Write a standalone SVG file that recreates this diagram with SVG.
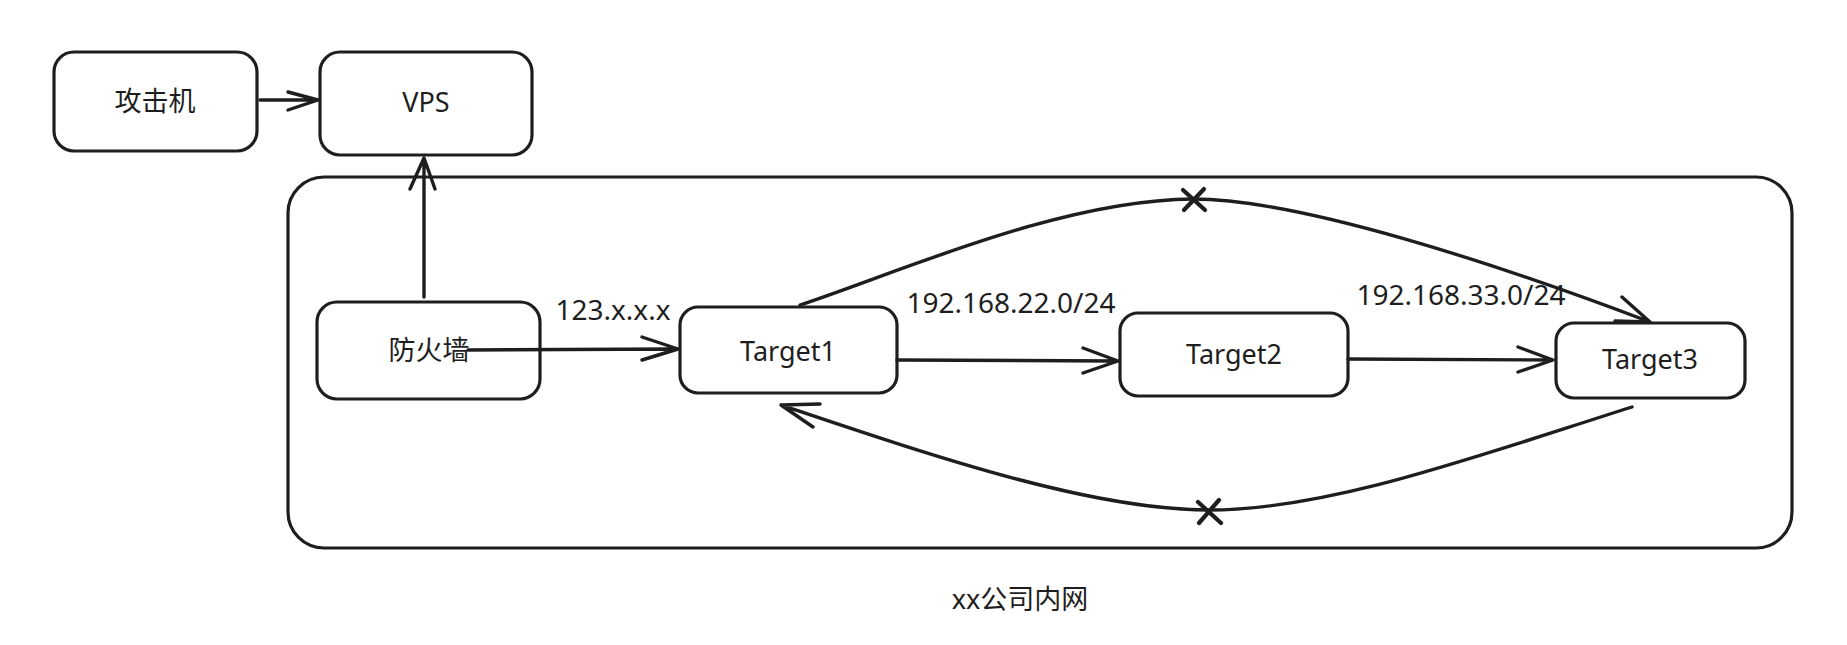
<svg xmlns="http://www.w3.org/2000/svg" width="1847" height="645" viewBox="0 0 1847 645">
<style>
.box{fill:#fff;stroke:#1e1e1e;stroke-width:3.2}
.cont{fill:none;stroke:#1e1e1e;stroke-width:3.2}
.ln{fill:none;stroke:#1e1e1e;stroke-width:3.4;stroke-linecap:round;stroke-linejoin:round}
.x{fill:none;stroke:#1e1e1e;stroke-width:4.2;stroke-linecap:round}
.t{font-family:"Noto Sans","Noto Sans CJK SC",sans-serif;font-size:27px;fill:#1e1e1e;text-anchor:middle;dominant-baseline:central}
.l{font-size:28px}
</style>
<rect width="1847" height="645" fill="#fff"/>
<g id="container">
<rect class="cont" x="288" y="177" width="1504" height="371" rx="36"/>
<text class="t" x="1020" y="598">xx公司内网</text>
</g>
<g id="attacker">
<rect class="box" x="54" y="52" width="203" height="99" rx="20"/>
<text class="t" x="155" y="100">攻击机</text>
</g>
<g id="vps">
<rect class="box" x="320" y="52" width="212" height="103" rx="20"/>
<text class="t" x="426" y="101">VPS</text>
</g>
<g id="firewall">
<rect class="box" x="317" y="302" width="223" height="97" rx="20"/>
<text class="t" x="429" y="349">防火墙</text>
</g>
<g id="target1">
<rect class="box" x="680" y="307" width="217" height="86" rx="18"/>
<text class="t" x="788" y="350">Target1</text>
</g>
<g id="target2">
<rect class="box" x="1120" y="313" width="228" height="83" rx="18"/>
<text class="t" x="1234" y="353">Target2</text>
</g>
<g id="target3">
<rect class="box" x="1556" y="323" width="189" height="75" rx="18"/>
<text class="t" x="1650" y="358">Target3</text>
</g>
<g id="connectors">
<path class="ln" d="M260,100 L318,100 M288,92 L318,100 L288,110"/>
<path class="ln" d="M424,297 L424,158 M410,189 L424,158 L435,189"/>
<path class="ln" d="M468,350 L678,349 M642,337 L678,349 L642,360"/>
<path class="ln" d="M897,360 L1118,361 M1083,348 L1118,361 L1083,373"/>
<path class="ln" d="M1348,359 L1553,360 M1518,347 L1553,360 L1518,372"/>
<path class="ln" d="M800,305 C900,272 1060,200 1193,199 C1300,199 1500,265 1650,322 M1622,297 L1650,322 L1615,321"/>
<path class="x" d="M1183,190 L1205,210 M1204,189 L1184,210"/>
<path class="ln" d="M1632,407 C1480,455 1330,510 1209,510 C1090,510 930,455 781,405 M820,404 L781,405 L813,427"/>
<path class="x" d="M1198,502 L1221,523 M1219,500 L1199,523"/>
<text class="t l" x="613" y="309">123.x.x.x</text>
<text class="t l" x="1011" y="302">192.168.22.0/24</text>
<text class="t l" x="1461" y="294">192.168.33.0/24</text>
</g>
</svg>
